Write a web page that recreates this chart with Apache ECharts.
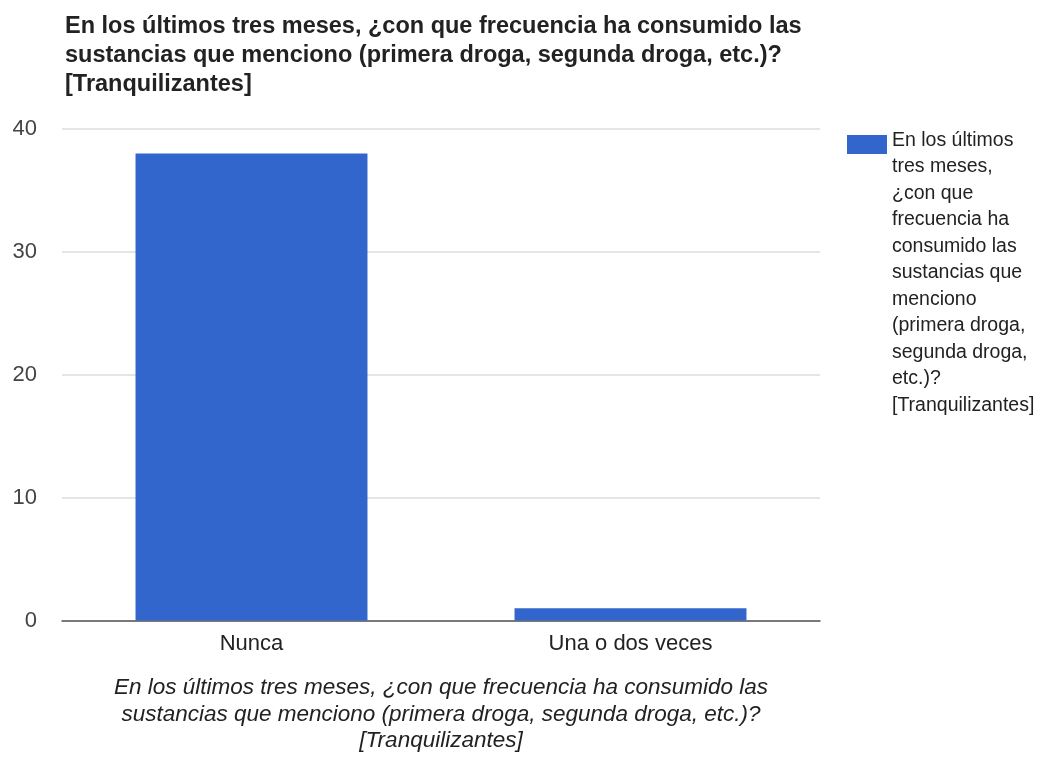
<!DOCTYPE html>
<html>
<head>
<meta charset="utf-8">
<script src="https://cdn.jsdelivr.net/npm/echarts@6/dist/echarts.min.js"></script>
<style>
  html, body { margin: 0; padding: 0; background: #fff; }
  #chart { width: 1040px; height: 759px; }
</style>
</head>
<body>
<div id="chart"></div>
<script>
// Survey answers: frequency of tranquilizer use in the last three months
const categories = ['Nunca', 'Una o dos veces'];
const counts = [38, 1];
const yTicks = [0, 10, 20, 30, 40];

const question = 'En los últimos tres meses, ¿con que frecuencia ha consumido las\nsustancias que menciono (primera droga, segunda droga, etc.)?\n[Tranquilizantes]';
const axisTitle = 'En los últimos tres meses, ¿con que frecuencia ha consumido las\nsustancias que menciono (primera droga, segunda droga, etc.)?\n[Tranquilizantes]';
const seriesName = 'En los últimos tres meses, ¿con que frecuencia ha consumido las sustancias que menciono (primera droga, segunda droga, etc.)? [Tranquilizantes]';
const legendLines = ['En los últimos', 'tres meses,', '¿con que', 'frecuencia ha', 'consumido las',
  'sustancias que', 'menciono', '(primera droga,', 'segunda droga,', 'etc.)?', '[Tranquilizantes]'];

const FONT = '"Liberation Sans", Arial, sans-serif';
const BAR_COLOR = '#3366cc';

const chart = echarts.init(document.getElementById('chart'), null, { renderer: 'canvas' });
chart.setOption({
  backgroundColor: '#ffffff',
  animation: false,
  textStyle: { fontFamily: FONT },
  title: {
    text: question,
    left: 60,
    top: 7,
    textStyle: { fontFamily: FONT, fontSize: 23.5, fontWeight: 'bold', color: '#222', lineHeight: 29 }
  },
  // Legend swatch; its wrapped label is laid out below as a top-aligned text block
  legend: {
    show: true,
    orient: 'vertical',
    left: 842,
    top: 130,
    itemWidth: 40,
    itemHeight: 19,
    icon: 'rect',
    selectedMode: false,
    formatter: () => '',
    data: [seriesName]
  },
  graphic: [{
    type: 'text',
    left: 892,
    top: 127,
    silent: true,
    style: {
      text: legendLines.join('\n'),
      font: '19.5px ' + FONT,
      fill: '#222',
      lineHeight: 26.5
    }
  }],
  grid: { left: 62, right: 220, top: 129, bottom: 134, containLabel: false },
  xAxis: {
    type: 'category',
    data: categories,
    name: axisTitle,
    nameLocation: 'middle',
    nameGap: 54,
    nameTextStyle: { fontFamily: FONT, fontSize: 22.5, fontStyle: 'italic', color: '#222', lineHeight: 26.5 },
    axisLine: { show: true, lineStyle: { color: '#555', width: 1.5 } },
    axisTick: { show: false },
    axisLabel: { fontSize: 22, color: '#222', margin: 12, fontFamily: FONT }
  },
  yAxis: {
    type: 'value',
    min: yTicks[0],
    max: yTicks[yTicks.length - 1],
    interval: yTicks[1] - yTicks[0],
    axisLine: { show: false },
    axisTick: { show: false },
    axisLabel: { fontSize: 22, color: '#444', margin: 25, fontFamily: FONT },
    splitLine: { lineStyle: { color: '#dcdcdc', width: 1.5 } }
  },
  series: [{
    name: seriesName,
    type: 'bar',
    data: counts,
    barWidth: '61.2%',
    itemStyle: { color: BAR_COLOR }
  }]
});
</script>
</body>
</html>
